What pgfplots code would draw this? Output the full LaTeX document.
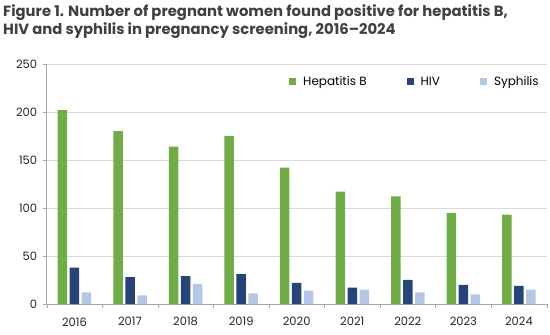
\documentclass[border=0pt]{standalone}
\usepackage{pgfplots}
\pgfplotsset{compat=1.18}
\usepackage{fontspec}
\setmainfont{Poppins}
\definecolor{hepb}{HTML}{70AD47}
\definecolor{hiv}{HTML}{264478}
\definecolor{syph}{HTML}{B4C7E7}
\definecolor{titlegray}{HTML}{404040}
\definecolor{axgray}{HTML}{A6A6A6}
\definecolor{gridgray}{HTML}{D9D9D9}
\begin{document}
\begin{tikzpicture}
\useasboundingbox (-46.7bp,-31bp) rectangle (503.3bp,304bp);
\begin{axis}[
  scale only axis,
  width=500bp, height=240bp,
  ybar=2.5bp, bar width=9.5bp,
  xmin=-0.5, xmax=8.5,
  ymin=0, ymax=250,
  ytick={0,50,...,250},
  xtick={0,...,8},
  xticklabels={2016,2017,2018,2019,2020,2021,2022,2023,2024},
  minor xtick={-0.5,0.5,...,8.5},
  major x tick style={draw=none},
  minor tick length=4bp,
  major tick length=4bp,
  tick align=outside,
  tick pos=left,
  axis x line*=bottom,
  axis y line*=left,
  axis line style={axgray},
  tick style={axgray},
  ymajorgrids,
  grid style={gridgray},
  every tick label/.append style={font=\fontsize{11.5bp}{13bp}\selectfont, text=black!85},
  /pgf/number format/assume math mode=true,
  xticklabel style={yshift=-6bp},
  yticklabel style={xshift=-2bp},
  legend columns=3,
  legend style={draw=none, fill=none, at={(rel axis cs:0.4846,0.926)}, anchor=west,
    font=\fontsize{12bp}{14bp}\selectfont, inner sep=0pt,
    nodes={inner sep=0pt},
    /tikz/every odd column/.append style={column sep=7bp},
    /tikz/every even column/.append style={column sep=40bp}},
  legend image code/.code={\fill[#1] (0bp,-3.5bp) rectangle (7bp,3.5bp);},
  clip=false,
]
\addplot[fill=hepb, draw=none] coordinates {(0,202) (1,180) (2,164) (3,175) (4,142) (5,117) (6,112) (7,95) (8,93)};
\addplot[fill=hiv, draw=none] coordinates {(0,38) (1,28) (2,29) (3,31) (4,22) (5,17) (6,25) (7,20) (8,19)};
\addplot[fill=syph, draw=none] coordinates {(0,12) (1,9) (2,21) (3,11) (4,14) (5,15) (6,12) (7,10) (8,15)};
\legend{Hepatitis B, HIV, Syphilis}
\end{axis}
\node[anchor=north west, align=left, inner sep=0pt, text=titlegray,
  font=\fontsize{14.8bp}{18bp}\selectfont\bfseries] at (-43.7bp,300bp)
  {Figure 1. Number of pregnant women found positive for hepatitis B,\\HIV and syphilis in pregnancy screening, 2016–2024};
\end{tikzpicture}
\end{document}
